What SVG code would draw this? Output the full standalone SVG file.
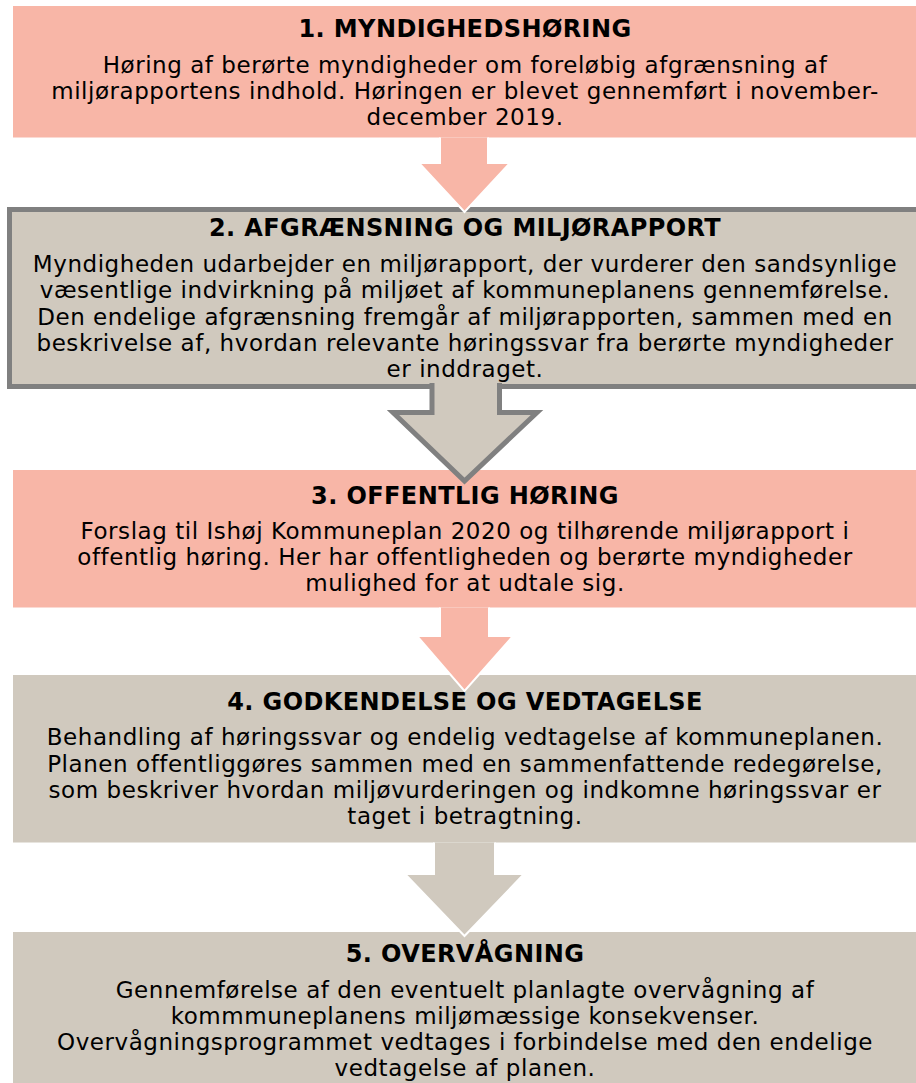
<svg xmlns="http://www.w3.org/2000/svg" width="916" height="1083" viewBox="0 0 916 1083">
<style>
.salmon{fill:#F8B6A7}
.tan{fill:#D0C9BE}
.t{font-family:"DejaVu Sans",Verdana,sans-serif;font-size:23px;letter-spacing:0.55px;fill:#000;text-anchor:middle}
.h{font-weight:bold;font-size:24px;letter-spacing:0.4px}
.wa{stroke:#fff;stroke-width:2;stroke-linejoin:miter}
</style>
<rect width="916" height="1083" fill="#fff"/>
<g id="n1">
<rect class="salmon" x="13" y="6" width="910" height="131.5"/>
<text class="t h" x="465" y="36.5">1. MYNDIGHEDSHØRING</text>
<text class="t" x="465" y="73">Høring af berørte myndigheder om foreløbig afgrænsning af</text>
<text class="t" x="465" y="99">miljørapportens indhold. Høringen er blevet gennemført i november-</text>
<text class="t" x="465" y="125">december 2019.</text>
</g>
<g id="n2">
<rect x="9.5" y="209.5" width="920" height="177" fill="#D0C9BE" stroke="#808080" stroke-width="5"/>
<text class="t h" x="465" y="236">2. AFGRÆNSNING OG MILJØRAPPORT</text>
<text class="t" x="465" y="272">Myndigheden udarbejder en miljørapport, der vurderer den sandsynlige</text>
<text class="t" x="465" y="298">væsentlige indvirkning på miljøet af kommuneplanens gennemførelse.</text>
<text class="t" x="465" y="324.5">Den endelige afgrænsning fremgår af miljørapporten, sammen med en</text>
<text class="t" x="465" y="350.5">beskrivelse af, hvordan relevante høringssvar fra berørte myndigheder</text>
<text class="t" x="465" y="377">er inddraget.</text>
</g>
<g id="n3">
<rect class="salmon" x="13" y="470" width="910" height="137.5"/>
<text class="t h" x="465" y="503.5">3. OFFENTLIG HØRING</text>
<text class="t" x="465" y="538.5">Forslag til Ishøj Kommuneplan 2020 og tilhørende miljørapport i</text>
<text class="t" x="465" y="564.5">offentlig høring. Her har offentligheden og berørte myndigheder</text>
<text class="t" x="465" y="590.5">mulighed for at udtale sig.</text>
</g>
<g id="n4">
<rect class="tan" x="13" y="675" width="910" height="167.5"/>
<text class="t h" x="465" y="709.5">4. GODKENDELSE OG VEDTAGELSE</text>
<text class="t" x="465" y="745">Behandling af høringssvar og endelig vedtagelse af kommuneplanen.</text>
<text class="t" x="465" y="771.5">Planen offentliggøres sammen med en sammenfattende redegørelse,</text>
<text class="t" x="465" y="797.5">som beskriver hvordan miljøvurderingen og indkomne høringssvar er</text>
<text class="t" x="465" y="824">taget i betragtning.</text>
</g>
<g id="n5">
<rect class="tan" x="13" y="932" width="910" height="160"/>
<text class="t h" x="465" y="962">5. OVERVÅGNING</text>
<text class="t" x="465" y="997.5">Gennemførelse af den eventuelt planlagte overvågning af</text>
<text class="t" x="465" y="1023.5">kommmuneplanens miljømæssige konsekvenser.</text>
<text class="t" x="465" y="1050">Overvågningsprogrammet vedtages i forbindelse med den endelige</text>
<text class="t" x="465" y="1076">vedtagelse af planen.</text>
</g>
<g id="connectors">
<path id="a1" class="salmon wa" d="M440,137.5 V163 H419 L464.5,212 L510,163 H488 V137.5"/>
<path id="a2" d="M432,383 V412.5 H393 L464.5,481 L537,412.5 H499.5 V383" fill="#D0C9BE" stroke="#808080" stroke-width="5"/>
<path id="a3" class="salmon wa" d="M440,607.5 V636 H417 L464.5,691 L513,636 H489 V607.5"/>
<path id="a4" class="tan wa" d="M434,842.5 V874 H405 L464.5,936 L524,874 H495 V842.5"/>
</g>
</svg>
